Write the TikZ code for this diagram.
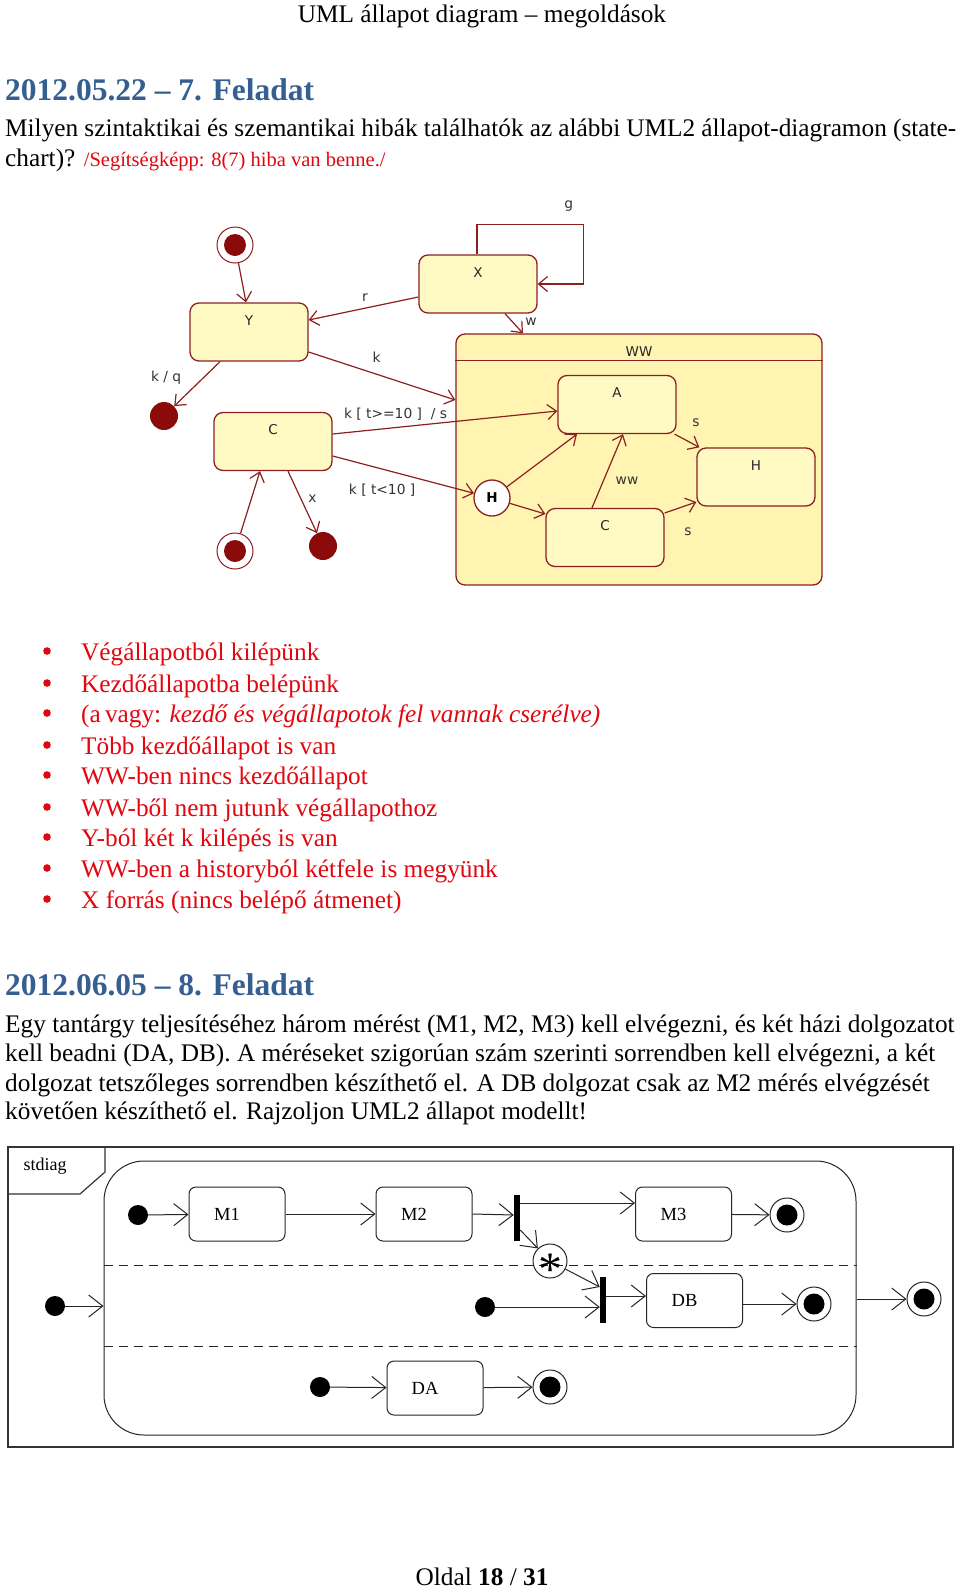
\documentclass[tikz,border=0pt]{standalone}
\usepackage{fontspec}
\setmainfont{Liberation Serif}
\newfontfamily\diafont{DejaVu Sans}
\usetikzlibrary{arrows.meta,positioning}

\begin{document}
\begin{tikzpicture}[x=1pt,y=-1pt,font=\fontsize{25.3}{30}\selectfont,
  line/.style={anchor=west,inner sep=0pt,text height=21pt,text depth=2pt},
  headline/.style={line,font=\fontsize{31.5}{34}\selectfont\bfseries,text=headblue},
  bul/.style={line,text=bulred},
  % statechart (top)
  stname/.style={anchor=center,yshift=-18pt,font=\diafont\fontsize{13.5}{14}\selectfont,text=black!85,inner sep=0pt},
  stbox/.style={draw=stline,fill=stfill,line width=1.3pt,rounded corners=9pt,
    minimum width=118pt,minimum height=58pt,inner sep=0pt,label={[stname]north:#1}},
  trans/.style={draw=stline,line width=1.2pt,-{Straight Barb[length=9pt,width=15pt]}},
  tlab/.style={font=\diafont\fontsize{13.8}{14}\selectfont,text=black!80,inner sep=0pt},
  bullseye/.style={circle,draw=stline,fill=white,line width=1pt,minimum size=36pt,inner sep=0pt,
    path picture={\fill[findot] (path picture bounding box.center) circle (11pt);}},
  blob/.style={circle,fill=findot,minimum size=28pt,inner sep=0pt},
  % state machine (bottom)
  mlab/.style={xshift=-10pt,inner sep=0pt,font=\fontsize{18.5}{19}\selectfont},
  mstate/.style={draw=black!85,rounded corners=7pt,line width=1pt,minimum width=96pt,
    minimum height=54pt,inner sep=0pt,label={[mlab]center:#1}},
  dotst/.style={circle,fill=black,minimum size=20pt,inner sep=0pt},
  endst/.style={circle,draw=black!85,line width=1pt,minimum size=34pt,inner sep=0pt,
    path picture={\fill[black] (path picture bounding box.center) circle (10.5pt);}},
  bar/.style={fill=black,minimum width=6pt,minimum height=46pt,inner sep=0pt},
  go/.style={draw=black!85,line width=1pt,-{Straight Barb[length=14pt,width=22pt]}}]
  \definecolor{headblue}{HTML}{365F91}
  \definecolor{bulred}{HTML}{E2060F}
  \definecolor{stline}{HTML}{8C2020}
  \definecolor{stfill}{HTML}{FFFAC4}
  \definecolor{wwfill}{HTML}{FFF4B2}
  \definecolor{findot}{HTML}{8B0A0A}
  \path[use as bounding box,fill=white] (0,0) rectangle (960,1591);

  % page text
  \node[line,anchor=center] (hdr) at (482,13) {UML állapot diagram – megoldások};
  \node[headline] (h1) at (5,91) {2012.05.22 – 7. Feladat};
  \node[line] (p1a) at (5,127) {\makebox[951pt][s]{Milyen szintaktikai és szemantikai hibák találhatók az alábbi UML2 állapot-diagramon (state-}};
  \node[line] (p1b) at (5,157) {chart)? {\color{bulred}\fontsize{20.5}{22}\selectfont/Segítségképp: 8(7) hiba van benne./}};

  \foreach \y/\t [count=\i] in {651/{Végállapotból kilépünk},683/{Kezdőállapotba belépünk},
      713/{(a\,vagy: \textit{kezdő és végállapotok fel vannak cserélve)}},745/{Több kezdőállapot is van},
      775/{WW-ben nincs kezdőállapot},807/{WW-ből nem jutunk végállapothoz},
      837/{Y-ból két k kilépés is van},868/{WW-ben a historyból kétfele is megyünk},
      899/{X forrás (nincs belépő átmenet)}}{
    \fill[bulred] (47,\y) circle (3.8);
    \node[bul] (bul\i) at (81,\y) {\t};
  }

  \node[headline] (h2) at (5,986) {2012.06.05 – 8. Feladat};
  \node[line] (p2a) at (5,1023) {Egy tantárgy teljesítéséhez három mérést (M1, M2, M3) kell elvégezni, és két házi dolgozatot};
  \node[line] (p2b) at (5,1052) {kell beadni (DA, DB). A méréseket szigorúan szám szerinti sorrendben kell elvégezni, a két};
  \node[line] (p2c) at (5,1082) {dolgozat tetszőleges sorrendben készíthető el. A DB dolgozat csak az M2 mérés elvégzését};
  \node[line] (p2d) at (5,1110) {követően készíthető el. Rajzoljon UML2 állapot modellt!};
  \node[line,anchor=center] (ftr) at (482,1576) {Oldal \textbf{18} / \textbf{31}};

  % statechart with the errors
  \node[stbox=WW,fill=wwfill,minimum width=366pt,minimum height=251pt] (WW) at (639,459.5) {};
  \draw[stline,line width=1.3pt] ([yshift=-27pt]WW.north west) -- ([yshift=-27pt]WW.north east);
  \node[stbox=A] (A) at (617,404.5) {};
  \node[stbox=H] (Hs) at (756,477) {};
  \node[stbox=C] (Cin) at (605,537.5) {};
  \node[circle,draw=stline,fill=white,line width=1.3pt,minimum size=36pt,inner sep=0pt,
    font=\diafont\bfseries\fontsize{13.5}{14}\selectfont] (hist) at (492,498) {H};
  \node[stbox=X] (X) at (478,284) {};
  \node[stbox=Y] (Y) at (249,332) {};
  \node[stbox=C] (Cout) at (273,441.5) {};
  \node[bullseye] (endA) at (235,245) {};
  \node[bullseye] (endB) at (235,551) {};
  \node[blob] (dotA) at (164,416) {};
  \node[blob] (dotB) at (323,546) {};

  \draw[trans] (endA) -- ([xshift=-3pt]Y.north);
  \draw[trans] ([yshift=-13pt]X.west) -- node[tlab,xshift=1.5pt,yshift=10.5pt] {r} ([yshift=12pt]Y.east);
  \draw[trans] ([xshift=-1pt]X.north) -- ++(0,30pt) -| node[tlab,pos=.43,yshift=18pt] {g} ([xshift=46pt]X.east) -- (X.east);
  \draw[trans] ([xshift=27pt]X.south) -- node[tlab,xshift=17pt,yshift=1.5pt] {w} ([xshift=-116pt]WW.north);
  \draw[trans] ([yshift=-20pt]Y.east) -- node[tlab,xshift=-5.5pt,yshift=19pt] {k} ([yshift=59.5pt]WW.west);
  \draw[trans] ([xshift=-29pt]Y.south) -- node[tlab,xshift=-31pt,yshift=6.5pt] {k / q} (dotA);
  \draw[trans] ([yshift=7.5pt]Cout.east) -- node[tlab,pos=.28,yshift=13.5pt] {k [ t>=10 ] \ / s} ([yshift=-6.5pt]A.west);
  \draw[trans] ([yshift=-14.5pt]Cout.east) -- node[tlab,pos=.35,yshift=-21.5pt] {k [ t<10 ]} (hist);
  \draw[trans] (endB) -- ([xshift=-13pt]Cout.south);
  \draw[trans] ([xshift=15pt]Cout.south) -- node[tlab,pos=.45,xshift=11.5pt] {x} (dotB);
  \draw[trans] (hist) -- ([xshift=-40pt]A.south);
  \draw[trans] (hist) -- ([yshift=23.5pt]Cin.west);
  \draw[trans] ([xshift=-13pt]Cin.north) -- node[tlab,xshift=19.5pt,yshift=-9.5pt] {ww} ([xshift=6pt]A.south);
  \draw[trans] ([xshift=-2pt]A.south east) -- node[tlab,xshift=9pt,yshift=18.5pt] {s} ([xshift=3pt]Hs.north west);
  \draw[trans] ([yshift=24.5pt]Cin.east) -- node[tlab,xshift=7.5pt,yshift=-24.5pt] {s} ([yshift=-25pt]Hs.west);

  % stdiag solution
  \draw[black!80,line width=1.5pt] (8,1147) rectangle (953,1447);
  \draw[black!80,line width=1.2pt] (8,1194) -- (80,1194) -- (105,1172) -- (105,1147);
  \node[inner sep=0pt,font=\fontsize{18}{19}\selectfont] (tab) at (45,1166) {stdiag};
  \node[draw=black!85,line width=1pt,rounded corners=40pt,minimum width=752pt,minimum height=274pt,inner sep=0pt] (comp) at (480,1298) {};
  \draw[black!85,line width=1pt,dash pattern=on 9pt off 6pt] (comp.west |- 0,1265) -- (comp.east |- 0,1265);
  \draw[black!85,line width=1pt,dash pattern=on 9pt off 6pt] (comp.west |- 0,1346) -- (comp.east |- 0,1346);

  \node[dotst] (o0) at (55,1306) {};
  \node[endst] (e0) at (924,1299) {};
  \node[dotst] (d1) at (138,1215) {};
  \node[mstate=M1] (M1) at (237,1214) {};
  \node[mstate=M2] (M2) at (424,1214) {};
  \node[bar] (F1) at (517,1217.5) {};
  \node[mstate=M3] (M3) at (683.5,1214) {};
  \node[endst] (e1) at (787,1215) {};
  \node[circle,draw=black!85,line width=1pt,minimum size=34pt,inner sep=0pt] (S) at (550,1261) {};
  \node[inner sep=0pt,yshift=-9pt] (Sast) at (S) {\fontsize{48}{48}\selectfont *};
  \node[dotst] (d2) at (485,1307) {};
  \node[bar] (F2) at (603,1300) {};
  \node[mstate=DB] (DB) at (694.5,1300.5) {};
  \node[endst] (e2) at (814,1304) {};
  \node[dotst] (d3) at (320,1387) {};
  \node[mstate=DA] (DA) at (435,1388) {};
  \node[endst] (e3) at (550,1387) {};

  \draw[go] (o0) -- ([yshift=-8pt]comp.west);
  \draw[go] (d1) -- (M1);
  \draw[go] (M1) -- (M2);
  \draw[go] (M2.east) -- ([yshift=2.5pt]F1.west);
  \draw[go] ([yshift=14.5pt]F1.east) -- ([yshift=11pt]M3.west);
  \draw[go] (M3) -- (e1);
  \draw[go] ([yshift=-12.5pt]F1.east) -- (S);
  \draw[go] (S) -- ([yshift=13pt]F2.west);
  \draw[go] (d2) -- ([yshift=-7pt]F2.west);
  \draw[go] ([yshift=4pt]F2.east) -- ([yshift=4.5pt]DB.west);
  \draw[go] ([yshift=-3.5pt]DB.east) -- (e2);
  \draw[go] ([yshift=-1pt]comp.east) -- (e0);
  \draw[go] (d3) -- (DA);
  \draw[go] (DA) -- (e3);
\end{tikzpicture}
\end{document}
